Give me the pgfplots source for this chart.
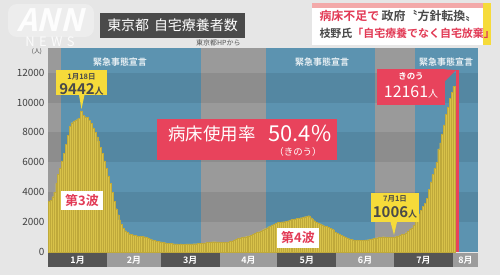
\documentclass[border=0pt]{standalone}
\usepackage{fontspec}
\setmainfont{Noto Sans CJK JP}[BoldFont={Noto Sans CJK JP Bold}]
\usepackage{pgfplots}
\usepackage{pgfplotstable}
\pgfplotsset{compat=1.18}
\definecolor{bgc}{HTML}{E6E6E6}
\definecolor{grayA}{HTML}{9A9A9A}
\definecolor{blueA}{HTML}{5C93B0}
\definecolor{barc}{HTML}{D8C24A}
\definecolor{barline}{HTML}{BFA93A}
\definecolor{redc}{HTML}{E8435C}
\definecolor{yellowc}{HTML}{F6DB3A}
\definecolor{titlec}{HTML}{4A4A4A}
\definecolor{hred}{HTML}{E23A55}
\definecolor{monthD}{HTML}{555555}
\definecolor{monthL}{HTML}{9C9C9C}
\definecolor{tick}{HTML}{404040}
\definecolor{pinkc}{HTML}{F3A9A9}
\newcommand{\fs}[1]{\fontsize{#1}{#1}\selectfont}
\pgfplotstableread{
d v
0 3400
1 3450
2 3700
3 4000
4 4600
5 5200
6 5600
7 6100
8 6600
9 7200
10 7800
11 8400
12 8650
13 8750
14 8800
15 8900
16 8950
17 9442
18 9150
19 9050
20 9000
21 8800
22 8600
23 8300
24 8000
25 7700
26 7400
27 7000
28 6600
29 6100
30 5600
31 5100
32 4600
33 4000
34 3400
35 2900
36 2500
37 2150
38 1850
39 1600
40 1430
41 1300
42 1230
43 1180
44 1140
45 1100
46 1080
47 1070
48 1060
49 1050
50 1030
51 990
52 940
53 880
54 830
55 780
56 750
57 720
58 690
59 670
60 650
61 620
62 600
63 580
64 565
65 555
66 545
67 540
68 535
69 540
70 530
71 535
72 540
73 545
74 540
75 550
76 555
77 560
78 570
79 580
80 590
81 600
82 620
83 640
84 660
85 680
86 690
87 690
88 680
89 670
90 650
91 640
92 630
93 650
94 680
95 720
96 750
97 800
98 860
99 910
100 950
101 990
102 1010
103 1030
104 1060
105 1090
106 1130
107 1180
108 1240
109 1300
110 1360
111 1420
112 1490
113 1560
114 1620
115 1690
116 1750
117 1810
118 1870
119 1930
120 1980
121 2000
122 2010
123 2030
124 2040
125 2080
126 2120
127 2170
128 2200
129 2220
130 2250
131 2270
132 2300
133 2330
134 2360
135 2400
136 2430
137 2300
138 2170
139 2100
140 2000
141 1950
142 1900
143 1830
144 1760
145 1700
146 1650
147 1600
148 1540
149 1470
150 1330
151 1250
152 1170
153 1100
154 1040
155 990
156 940
157 890
158 850
159 820
160 800
161 780
162 770
163 780
164 790
165 800
166 810
167 830
168 850
169 880
170 910
171 940
172 960
173 980
174 1000
175 1030
176 1020
177 1000
178 990
179 990
180 1000
181 1006
182 1040
183 1080
184 1120
185 1170
186 1220
187 1290
188 1380
189 1500
190 1620
191 1800
192 2050
193 2250
194 2550
195 2800
196 3050
197 3250
198 3600
199 4200
200 4700
201 5200
202 5600
203 6000
204 6900
205 7300
206 7900
207 8500
208 9200
209 9700
210 10300
211 10700
212 11100
}\tokyo
\begin{document}
\begin{tikzpicture}[x=1bp,y=1bp]
\fill[bgc] (0,0) rectangle (500,275);
\useasboundingbox (0,0) rectangle (500,275);
% ANN NEWS watermark
\fill[white,opacity=0.3,rounded corners=9bp] (8,238) rectangle (94,271);
\node[white,opacity=0.9,xslant=0.25,font=\fs{31}\bfseries] at (53,255) {ANN};
\node[white,opacity=0.85,font=\fs{13}] at (50,233) {N\,\,E\,\,W\,\,S};
\begin{axis}[at={(48bp,23bp)}, anchor=south west, scale only axis,
  width=430bp, height=204bp,
  xmin=-0.5, xmax=224.6, ymin=0, ymax=13650,
  axis line style={draw=none}, major tick length=0pt,
  xtick=\empty, ytick={0,2000,4000,6000,8000,10000,12000},
  scaled y ticks=false,
  yticklabel style={font=\fs{10}, text=tick},
  /pgf/number format/assume math mode=true,
  /pgf/number format/1000 sep={},
  clip=false]
\fill[grayA] (axis cs:-0.5,0) rectangle (axis cs:224.6,13650);
\fill[blueA] (axis cs:6.5,0) rectangle (axis cs:79.5,13650);
\fill[blueA] (axis cs:113.5,0) rectangle (axis cs:170.5,13650);
\fill[blueA] (axis cs:191.5,0) rectangle (axis cs:224.6,13650);
\fill[black,opacity=0.08] (axis cs:-0.5,2000) rectangle (axis cs:224.6,4000);
\fill[black,opacity=0.08] (axis cs:-0.5,6000) rectangle (axis cs:224.6,8000);
\fill[black,opacity=0.08] (axis cs:-0.5,10000) rectangle (axis cs:224.6,12000);
% month band
\fill[monthD] (axis cs:-0.5,-70) rectangle (axis cs:30.5,-1000);
\fill[monthL] (axis cs:30.5,-70) rectangle (axis cs:58.5,-1000);
\fill[monthD] (axis cs:58.5,-70) rectangle (axis cs:89.5,-1000);
\fill[monthL] (axis cs:89.5,-70) rectangle (axis cs:119.5,-1000);
\fill[monthD] (axis cs:119.5,-70) rectangle (axis cs:150.5,-1000);
\fill[monthL] (axis cs:150.5,-70) rectangle (axis cs:180.5,-1000);
\fill[monthD] (axis cs:180.5,-70) rectangle (axis cs:211.5,-1000);
\fill[monthL] (axis cs:211.5,-70) rectangle (axis cs:224.6,-1000);
\node[white,font=\fs{9}\bfseries] at (axis cs:15,-535) {1月};
\node[white,font=\fs{9}\bfseries] at (axis cs:44.5,-535) {2月};
\node[white,font=\fs{9}\bfseries] at (axis cs:74,-535) {3月};
\node[white,font=\fs{9}\bfseries] at (axis cs:104.5,-535) {4月};
\node[white,font=\fs{9}\bfseries] at (axis cs:135,-535) {5月};
\node[white,font=\fs{9}\bfseries] at (axis cs:165.5,-535) {6月};
\node[white,font=\fs{9}\bfseries] at (axis cs:196,-535) {7月};
\node[white,font=\fs{9}\bfseries] at (axis cs:218,-535) {8月};
\node[white,opacity=0.85,font=\fs{9}\bfseries] at (axis cs:37.2,12720) {緊急事態宣言};
\node[white,opacity=0.85,font=\fs{9}\bfseries] at (axis cs:143,12720) {緊急事態宣言};
\node[white,opacity=0.85,font=\fs{9}\bfseries] at (axis cs:207.9,12720) {緊急事態宣言};
\addplot[ybar, bar shift=0pt, bar width=1, fill=barc, draw=barline, line width=0.2pt] table[x=d,y=v] {\tokyo};
\addplot[ybar, bar shift=0pt, bar width=1.7, fill=redc, draw=none] coordinates {(214,12161)};
\end{axis}
% title
\fill[titlec] (100,237) rectangle (245,262);
\node[white,font=\fs{14}] at (172.5,249.5) {東京都\hspace{0.35em}自宅療養者数};
\node[anchor=east,text=monthD,font=\fs{7}] at (244,232) {東京都HPから};
\node[text=tick,font=\fs{6}] at (37,223.5) {(人)};
% headline
\fill[white] (312,230) rectangle (490,272);
\fill[pinkc] (312,267) rectangle (490,272);
\fill[yellowc] (483,230) rectangle (491,272);
\node[anchor=west,text=titlec,font=\fs{12}\bfseries] at (316,259) {\textcolor{hred}{病床不足で}\hspace{0.2em}政府〝方針転換〟};
\node[anchor=west,text=titlec,font=\fs{11}\bfseries] at (316,242) {枝野氏\textcolor{hred}{「自宅療養でなく自宅放棄」}};
% callout 1
\fill[yellowc] (56,180) rectangle (107,205);
\fill[yellowc] (79,180) -- (84.5,180) -- (81.5,166) -- cycle;
\node[text=titlec,font=\fs{7.5}\bfseries] at (81.5,198) {1月18日};
\node[text=titlec,font=\fs{15}\bfseries] at (81.5,186) {9442{\fs{9}人}};
% callout red yesterday
\fill[redc] (377,170) rectangle (445,206);
\fill[redc] (438,206) -- (445,194) -- (456,205) -- cycle;
\node[white,font=\fs{8.5}\bfseries] at (411,199) {きのう};
\node[white,font=\fs{16}] at (411,183) {12161{\fs{10}人}};
% big red box
\fill[redc] (157,115) rectangle (337,156);
\node[anchor=west,white,font=\fs{17.5}] at (165,141.5) {病床使用率};
\node[anchor=west,white,font=\fs{22}] at (265,141.5) {50.4\%};
\node[white,font=\fs{9.5}] at (298,123) {（きのう）};
% waves
\fill[white] (61,65) rectangle (103,84);
\node[text=hred,font=\fs{13}\bfseries] at (82,74.5) {第3波};
\fill[white] (277,27) rectangle (319,47);
\node[text=hred,font=\fs{13}\bfseries] at (298,37) {第4波};
% callout Jul 1
\fill[yellowc] (371,53) rectangle (419,82);
\fill[yellowc] (390.5,53) -- (397,53) -- (394,40) -- cycle;
\node[text=titlec,font=\fs{7.5}\bfseries] at (395,76) {7月1日};
\node[text=titlec,font=\fs{15}\bfseries] at (395,63) {1006{\fs{9}人}};
\end{tikzpicture}
\end{document}
